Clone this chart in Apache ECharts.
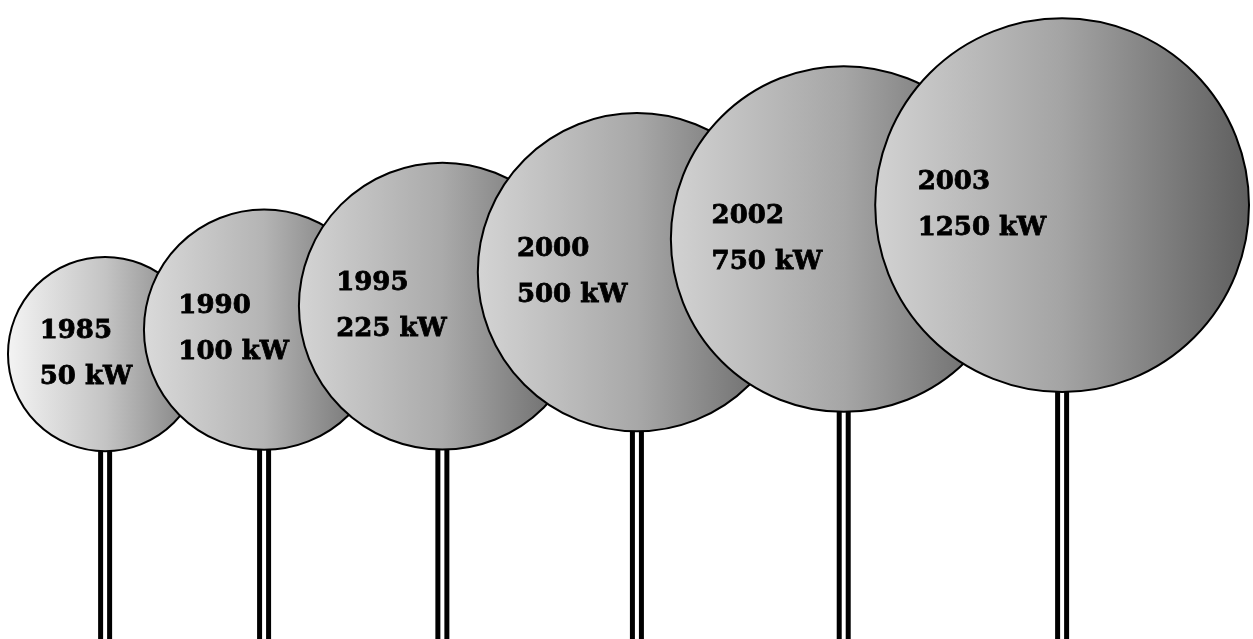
<!DOCTYPE html>
<html>
<head>
<meta charset="utf-8">
<title>Wind turbine growth</title>
<script src="https://cdn.jsdelivr.net/npm/echarts@6/dist/echarts.min.js"></script>
<style>
  html, body { margin: 0; padding: 0; background: #ffffff; }
  #chart { width: 1253px; height: 639px; }
</style>
</head>
<body>
<div id="chart"></div>
<script>
// Turbine generations: year, rated power, rotor diameter and hub height (metres)
const years = ['1985', '1990', '1995', '2000', '2002', '2003'];
const ratedPowerKw = [50, 100, 225, 500, 750, 1250];
const rotorDiameterM = [30.4, 37.6, 44.9, 49.8, 54.1, 58.5];
const hubHeightM = [44.6, 48.4, 52.1, 57.4, 62.6, 67.9];

// Rotor disc shading, light on the left to dark on the right
const shading = [
  ['#f4f4f4', '#c4c4c4', '#7a7a7a'],
  ['#dadada', '#b4b4b4', '#666666'],
  ['#d4d4d4', '#aaaaaa', '#606060'],
  ['#d4d4d4', '#a8a8a8', '#5f5f5f'],
  ['#d2d2d2', '#a6a6a6', '#5e5e5e'],
  ['#d2d2d2', '#a4a4a4', '#5e5e5e']
];

const chart = echarts.init(document.getElementById('chart'), null, { renderer: 'canvas' });

// Vertical extent in metres; the horizontal axis uses the same metres-per-pixel
const Y_MAX = 100;
const X_MAX = Y_MAX * chart.getWidth() / chart.getHeight();

// Turbines stand in a row, neighbouring rotors overlapping
const ROW_MARGIN = 1.25;
const SPACING = 10.7;
const OVERLAP = 0.417;
const groundX = [];
rotorDiameterM.forEach((d, i) => {
  if (i === 0) groundX.push(ROW_MARGIN + d / 2);
  else groundX.push(groundX[i - 1] + SPACING + OVERLAP * (rotorDiameterM[i - 1] + d) / 2);
});

const seriesData = years.map((y, i) => [groundX[i], hubHeightM[i], rotorDiameterM[i], i]);

const FONT = 'bold 26px "DejaVu Serif", "Liberation Serif", serif';

function renderTurbine(params, api) {
  const x = api.value(0);
  const hub = api.value(1);
  const diam = api.value(2);
  const idx = api.value(3);
  const c = api.coord([x, hub]);
  const g = api.coord([x, 0]);
  const r = api.size([0, diam])[1] / 2;
  const tone = shading[idx];
  const tx = c[0] - 0.88 * r + 20;
  const textStyle = (t, y) => ({
    text: t, x: tx, y: y, font: FONT, fill: '#000',
    stroke: '#000', lineWidth: 0.8,
    align: 'left', verticalAlign: 'middle'
  });
  return {
    type: 'group',
    children: [
      { type: 'rect', shape: { x: c[0] - 7, y: c[1], width: 5, height: g[1] - c[1] + 2 },
        style: { fill: '#000' } },
      { type: 'rect', shape: { x: c[0] + 2, y: c[1], width: 5, height: g[1] - c[1] + 2 },
        style: { fill: '#000' } },
      { type: 'circle', shape: { cx: c[0], cy: c[1], r: r },
        style: {
          fill: new echarts.graphic.LinearGradient(0, 0, 1, 0, [
            { offset: 0, color: tone[0] },
            { offset: 0.5, color: tone[1] },
            { offset: 1, color: tone[2] }
          ]),
          stroke: '#000', lineWidth: 2
        } },
      { type: 'text', style: textStyle(years[idx], c[1] - 23) },
      { type: 'text', style: textStyle(ratedPowerKw[idx] + ' kW', c[1] + 23) }
    ]
  };
}

chart.setOption({
  animation: false,
  backgroundColor: '#ffffff',
  grid: { left: 0, right: 0, top: 0, bottom: 0, containLabel: false },
  xAxis: { type: 'value', min: 0, max: X_MAX, show: false },
  yAxis: { type: 'value', min: 0, max: Y_MAX, show: false },
  series: [{
    type: 'custom',
    clip: false,
    renderItem: renderTurbine,
    data: seriesData
  }]
});
</script>
</body>
</html>
